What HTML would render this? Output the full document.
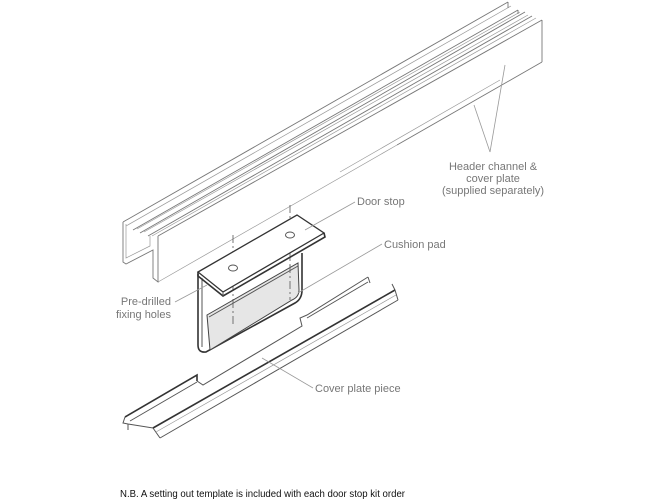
<!DOCTYPE html>
<html><head><meta charset="utf-8"><style>
html,body{margin:0;padding:0;background:#fff;}
svg{display:block;}
.l{fill:none;stroke:#555;stroke-width:1;}
.h{fill:none;stroke:#777;stroke-width:0.9;}
.t{fill:none;stroke:#999;stroke-width:0.7;}
.d{fill:none;stroke:#333;stroke-width:1.6;}
text{font-family:"Liberation Sans",sans-serif;font-size:11px;fill:#777;}
</style></head><body>
<svg width="660" height="500" viewBox="0 0 660 500" xmlns="http://www.w3.org/2000/svg">
<!-- Header channel -->
<g>
<line class="h" x1="123" y1="222" x2="508" y2="2"/>
<line class="t" x1="126" y1="226" x2="511" y2="6"/>
<line class="h" x1="133" y1="230" x2="518" y2="10"/>
<line class="t" x1="137" y1="229" x2="520" y2="12"/>
<line class="h" x1="140" y1="233" x2="525" y2="12"/>
<line class="t" x1="144" y1="232" x2="528" y2="15"/>
<line class="h" x1="148" y1="236" x2="532" y2="16"/>
<line class="t" x1="152" y1="236" x2="536" y2="18"/>
<line class="h" x1="158" y1="236" x2="542" y2="20"/>
<line class="h" x1="542" y1="20" x2="542" y2="62"/>
<line class="h" x1="542" y1="62" x2="397" y2="145"/>
<line class="t" x1="397" y1="145" x2="158" y2="282"/>
<line class="t" x1="500" y1="80" x2="340" y2="172"/>
<polyline class="h" points="123,222 123,262 126,264 153,250 153,278 158,282 158,236"/>
<polyline class="t" points="126,224 126,258 150,246 150,236"/>
<line class="h" x1="508" y1="2" x2="508" y2="8"/>
<line class="h" x1="518" y1="10" x2="518" y2="14"/>
</g>
<line x1="290" y1="205" x2="290" y2="300" stroke="#555" stroke-width="0.8" stroke-dasharray="8,3,2,3"/>
<line x1="233" y1="235" x2="233" y2="325" stroke="#555" stroke-width="0.8" stroke-dasharray="8,3,2,3"/>
<!-- Door stop leg -->
<path class="d" d="M198,274 L198,345 Q198,353 206,352 L295,303 Q302,299 302,290 L302,253" fill="#fff"/>
<line class="l" x1="202" y1="278" x2="202" y2="347"/>
<path d="M207,315 L298,263 L299,290 Q299,297 292,300 L210,350 Z" fill="#e6e6e6" stroke="#444" stroke-width="1"/>
<line class="l" x1="209" y1="317" x2="298" y2="266"/>
<line x1="233" y1="300" x2="233" y2="325" stroke="#555" stroke-width="0.8" stroke-dasharray="8,3,2,3"/>
<line x1="290" y1="265" x2="290" y2="300" stroke="#555" stroke-width="0.8" stroke-dasharray="8,3,2,3"/>
<polygon points="198,272 297,215 324,233 223,292" fill="#fff" stroke="#333" stroke-width="1.3"/>
<polyline class="d" points="198,272 198,276 223,296 325,237 324,233"/>
<line class="l" x1="223" y1="292" x2="223" y2="296"/>
<ellipse cx="233" cy="268" rx="4.5" ry="3" class="l"/>
<ellipse cx="290" cy="235" rx="4.5" ry="3" class="l"/>
<!-- Cover plate piece -->
<g>
<polyline class="d" points="125,417 197,375 197,381"/>
<polyline class="l" points="197,381 203,385 302,326 300,318 307,315 368,277"/>
<polyline class="l" points="125,417 123,423 128,424 153,428 395,290 392,284"/>
<line class="d" x1="153" y1="428" x2="395" y2="290"/>
<line class="l" x1="130" y1="421" x2="197" y2="382"/>
<line class="l" x1="307" y1="318" x2="368" y2="282"/>
<line class="l" x1="153" y1="428" x2="160" y2="438"/>
<line class="l" x1="160" y1="438" x2="398" y2="300"/>
<line class="t" x1="156" y1="432" x2="396" y2="295"/>
<line class="l" x1="395" y1="290" x2="398" y2="300"/>
<line class="l" x1="368" y1="277" x2="370" y2="283"/>
<line class="l" x1="128" y1="424" x2="128" y2="430"/>
</g>
<g stroke="#999" stroke-width="0.8" fill="none">
<line x1="490" y1="152" x2="505" y2="65"/>
<line x1="490" y1="152" x2="474" y2="105"/>
<line x1="355" y1="202" x2="305" y2="230"/>
<line x1="382" y1="244" x2="298" y2="293"/>
<line x1="175" y1="302" x2="207" y2="285"/>
<line x1="313" y1="388" x2="262" y2="358"/>
</g>
<text x="493" y="170" text-anchor="middle">Header channel &amp;</text>
<text x="493" y="182" text-anchor="middle">cover plate</text>
<text x="493" y="194" text-anchor="middle">(supplied separately)</text>
<text x="357" y="205">Door stop</text>
<text x="384" y="248">Cushion pad</text>
<text x="171" y="305" text-anchor="end">Pre-drilled</text>
<text x="171" y="318" text-anchor="end">fixing holes</text>
<text x="315" y="392">Cover plate piece</text>
<text x="120" y="497" style="fill:#111;font-size:10px" textLength="285" lengthAdjust="spacingAndGlyphs">N.B. A setting out template is included with each door stop kit order</text>
</svg>
</body></html>
